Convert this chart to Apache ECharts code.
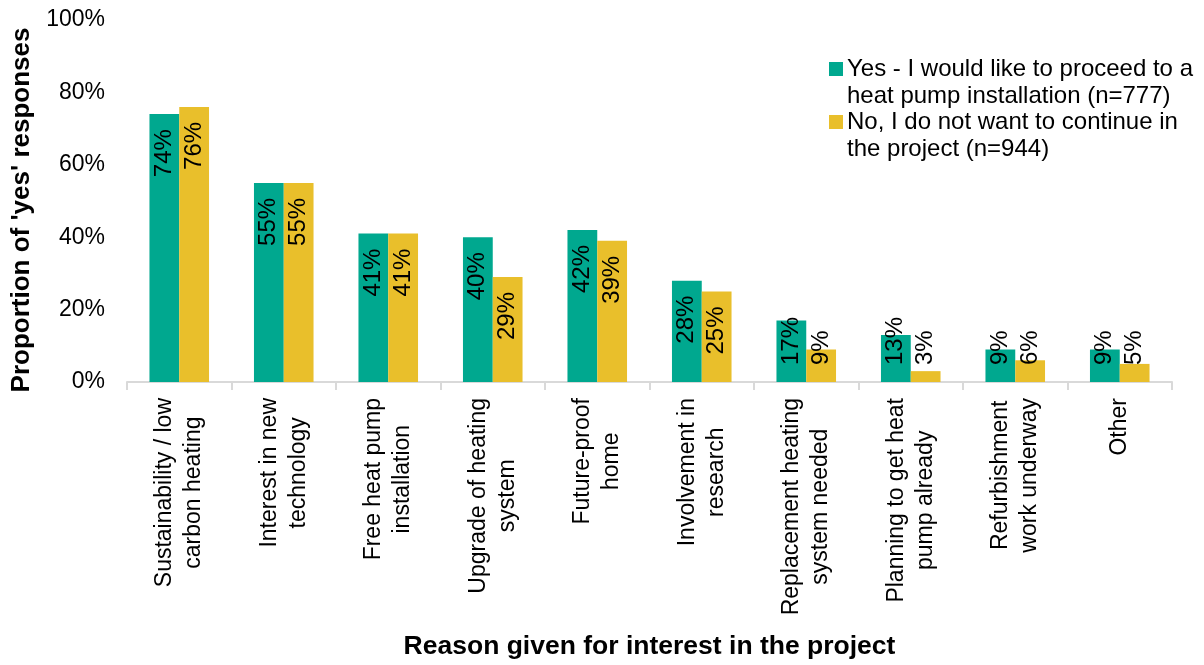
<!DOCTYPE html>
<html>
<head>
<meta charset="utf-8">
<script src="https://cdn.jsdelivr.net/npm/echarts@6/dist/echarts.min.js"></script>
<style>
  html, body { margin: 0; padding: 0; background: #fff; }
  #chart { width: 1204px; height: 665px; }
</style>
</head>
<body>
<div id="chart"></div>
<script>
// Reasons given for interest in the heat pump project
const categories = [
  'Sustainability / low\ncarbon heating',
  'Interest in new\ntechnology',
  'Free heat pump\ninstallation',
  'Upgrade of heating\nsystem',
  'Future-proof\nhome',
  'Involvement in\nresearch',
  'Replacement heating\nsystem needed',
  'Planning to get heat\npump already',
  'Refurbishment\nwork underway',
  'Other'
];

const seriesNames = [
  'Yes - I would like to proceed to a\nheat pump installation (n=777)',
  'No, I do not want to continue in\nthe project (n=944)'
];

// Percent answering 'yes' to each reason
const yesValues = [74, 55, 41, 40, 42, 28, 17, 13, 9, 9];
const noValues  = [76, 55, 41, 29, 39, 25, 9, 3, 6, 5];

const yTicks = [0, 20, 40, 60, 80, 100];

const colors = ['#00A88F', '#E9BF2B'];
const FONT = 'Liberation Sans, Arial, sans-serif';

// Short bars get their label lifted off the base; tall bars hang it from the top
function barData(values) {
  return values.map(v => {
    const small = v < 20;
    return {
      value: v,
      label: small
        ? { position: 'insideBottom', distance: 17, align: 'left', verticalAlign: 'middle' }
        : { position: 'insideTop', distance: 15, align: 'right', verticalAlign: 'middle' }
    };
  });
}

function makeSeries(i, values) {
  return {
    name: seriesNames[i],
    type: 'bar',
    barGap: '0%',
    barCategoryGap: '43%',
    itemStyle: { color: colors[i] },
    label: {
      show: true,
      rotate: 90,
      formatter: '{c}%',
      color: '#000',
      fontFamily: FONT,
      fontSize: 24
    },
    emphasis: { disabled: true },
    data: barData(values)
  };
}

const legendRich = {
  sq0: { width: 14, height: 14, backgroundColor: colors[0] },
  sq1: { width: 14, height: 14, backgroundColor: colors[1] },
  sp: { width: 14 },
  t: { fontFamily: FONT, fontSize: 24, lineHeight: 27, color: '#000', padding: [0, 0, 0, 4] }
};

const chart = echarts.init(document.getElementById('chart'), null, { renderer: 'canvas' });

chart.setOption({
  animation: false,
  backgroundColor: '#fff',
  textStyle: { fontFamily: FONT },
  grid: { left: 127, right: 32, top: 20, bottom: 281, containLabel: false },
  legend: {
    orient: 'vertical',
    left: 824,
    top: 57,
    padding: 0,
    itemGap: 2,
    itemWidth: 0,
    itemHeight: 0,
    selectedMode: false,
    data: seriesNames,
    formatter: name => {
      const idx = seriesNames.indexOf(name);
      return name.split('\n')
        .map((line, k) => (k === 0 ? '{sq' + idx + '|}' : '{sp|}') + '{t|' + line + '}')
        .join('\n');
    },
    textStyle: { rich: legendRich }
  },
  xAxis: {
    type: 'category',
    data: categories,
    name: 'Reason given for interest in the project',
    nameLocation: 'middle',
    nameGap: 251,
    nameTextStyle: { fontFamily: FONT, fontSize: 26.5, fontWeight: 'bold', color: '#000' },
    axisLine: { lineStyle: { color: '#D9D9D9', width: 2 } },
    axisTick: { show: true, length: 8, lineStyle: { color: '#D9D9D9', width: 2 } },
    axisLabel: {
      rotate: 90,
      margin: 16,
      interval: 0,
      color: '#000',
      formatter: v => v.split('\n').map(l => '{c|' + l + '}').join('\n'),
      rich: { c: { align: 'center', fontFamily: FONT, fontSize: 23, lineHeight: 29, color: '#000' } }
    }
  },
  yAxis: {
    type: 'value',
    min: yTicks[0],
    max: yTicks[yTicks.length - 1],
    interval: yTicks[1] - yTicks[0],
    name: "Proportion of 'yes' responses",
    nameLocation: 'middle',
    nameGap: 92,
    nameTextStyle: { fontFamily: FONT, fontSize: 26, fontWeight: 'bold', color: '#000', padding: [0, 18, 0, 0] },
    axisLine: { show: false },
    axisTick: { show: false },
    splitLine: { show: false },
    axisLabel: {
      margin: 22,
      formatter: '{value}%',
      fontFamily: FONT,
      fontSize: 23,
      color: '#000'
    }
  },
  series: [makeSeries(0, yesValues), makeSeries(1, noValues)]
});
</script>
</body>
</html>
